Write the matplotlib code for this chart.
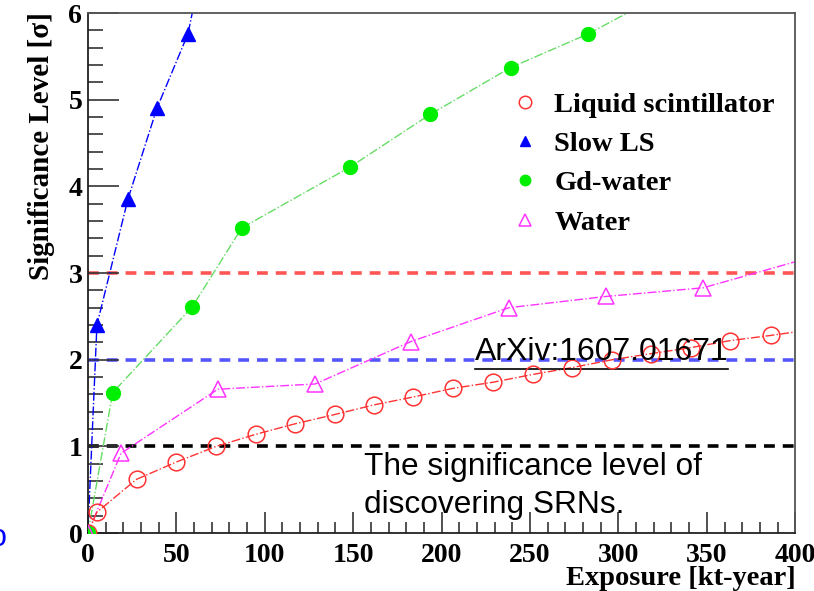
import matplotlib
matplotlib.use("Agg")
import matplotlib.pyplot as plt
from matplotlib.ticker import MultipleLocator

# exposure [kt-year] and significance [sigma]
ls_x = [0, 5, 27.5, 50, 72.5, 95, 117, 140, 162, 184, 206.5, 229, 251.5, 274, 296.5, 318.5, 341, 363, 386, 400]
ls_y = [0, 0.24, 0.62, 0.82, 1.00, 1.14, 1.26, 1.37, 1.48, 1.57, 1.67, 1.74, 1.83, 1.91, 2.00, 2.07, 2.14, 2.22, 2.28, 2.32]

slow_x = [0, 5.1, 22.6, 39, 56.6, 59]
slow_y = [0, 2.40, 3.85, 4.90, 5.76, 6.0]

gd_x = [0, 14, 59, 87, 148, 193.5, 239, 283, 305]
gd_y = [0, 1.62, 2.61, 3.52, 4.22, 4.83, 5.37, 5.76, 6.0]

w_x = [0, 18.7, 73.5, 128.5, 182.7, 238, 293, 348, 400]
w_y = [0, 0.92, 1.66, 1.72, 2.21, 2.60, 2.73, 2.83, 3.13]

# which points carry a marker (last point of a line is only where it leaves the frame)
ls_n = 19
slow_n = 5
gd_n = 8
w_n = 8

levels = [3, 2, 1]
level_colors = ['#ff5555', '#5555ff', 'black']

serif = ['Liberation Serif', 'DejaVu Serif']
sans = ['Liberation Sans', 'DejaVu Sans']

fig = plt.figure(figsize=(8.14, 5.91), dpi=100)
ax = fig.add_axes([0.108, 0.098, 0.869, 0.880])

for lv, c in zip(levels, level_colors):
    ax.plot([0, 400], [lv, lv], color=c, lw=2.6, ls=(0, (3, 2.2)), zorder=1)

ax.plot(slow_x, slow_y, color='blue', lw=1, ls='-.', zorder=2)
ax.plot(gd_x, gd_y, color='#66dd66', lw=1, ls='-.', zorder=2)
ax.plot(w_x, w_y, color='#ff33ff', lw=1, ls='-.', zorder=2)
ax.plot(ls_x, ls_y, color='#ff3333', lw=1, ls='-.', zorder=2)

ax.plot(ls_x[:ls_n], ls_y[:ls_n], ls='none', marker='o', ms=12, mfc='none',
        mec='#ff3333', mew=1.1, label='Liquid scintillator', zorder=3)
ax.plot(slow_x[:slow_n], slow_y[:slow_n], ls='none', marker='^', ms=10,
        color='blue', label='Slow LS', zorder=3)
ax.plot(gd_x[:gd_n], gd_y[:gd_n], ls='none', marker='o', ms=10,
        color='#00ee00', label='Gd-water', zorder=3)
ax.plot(w_x[:w_n], w_y[:w_n], ls='none', marker='^', ms=12, mfc='none',
        mec='#ff33ff', mew=1.1, label='Water', zorder=3)

ax.set_xlim(0, 400)
ax.set_ylim(0, 6)
ax.xaxis.set_major_locator(MultipleLocator(50))
ax.xaxis.set_minor_locator(MultipleLocator(10))
ax.yaxis.set_major_locator(MultipleLocator(1))
ax.yaxis.set_minor_locator(MultipleLocator(0.2))
ax.tick_params(which='both', direction='in', top=False, right=False, width=1.2, color='#333333')
ax.tick_params(axis='y', which='major', length=22, pad=4)
ax.tick_params(axis='y', which='minor', length=11)
ax.tick_params(axis='x', which='major', length=15, pad=7)
ax.tick_params(axis='x', which='minor', length=8)
for lab in ax.get_xticklabels() + ax.get_yticklabels():
    lab.set_fontfamily(serif)
    lab.set_fontweight('bold')
    lab.set_fontsize(20)
for sp in ax.spines.values():
    sp.set_color('#555555')
    sp.set_linewidth(1.3)
ax.spines['left'].set_color('#222222')
ax.spines['bottom'].set_color('#222222')

ax.set_ylabel('Significance Level [σ]', fontsize=21, fontweight='bold', family=serif)
ax.yaxis.set_label_coords(-0.046, 0.745)
ax.set_xlabel('Exposure [kt-year]', fontsize=20.5, fontweight='bold', family=serif, ha='right')
ax.xaxis.set_label_coords(1.0, -0.063)

leg = ax.legend(loc='upper left', bbox_to_anchor=(0.562, 0.898), frameon=False,
                prop={'family': serif, 'weight': 'bold', 'size': 20.5},
                handlelength=1.0, handletextpad=0.52, labelspacing=0.47, markerscale=0.75)

ax.text(219, 2.09, 'ArXiv:1607.01671', family=sans, fontsize=23, va='center', ha='left')
ax.plot([219, 362], [1.89, 1.89], color='black', lw=1.2)
ax.text(156, 0.54, 'The significance level of\ndiscovering SRNs.', family=sans,
        fontsize=22.8, va='center', ha='left', linespacing=1.36)

fig.text(-0.012, 0.09, 'o', color='blue', fontsize=22, family=sans, va='center')

fig.savefig('out.png', dpi=100)
